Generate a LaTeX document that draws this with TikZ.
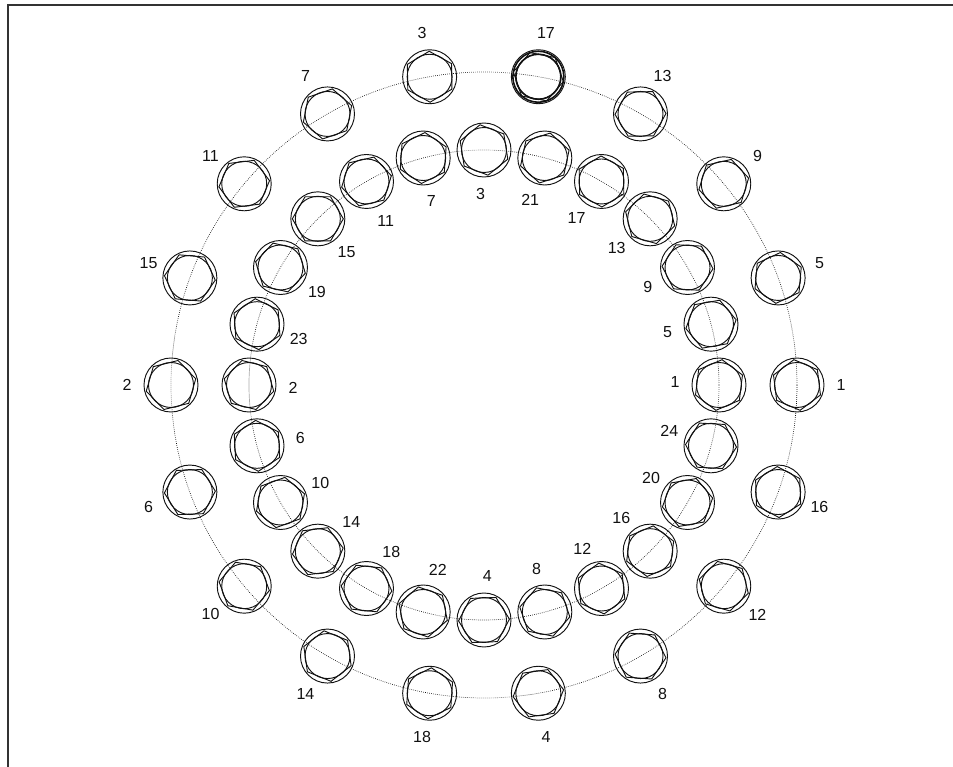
\documentclass[tikz,border=0pt]{standalone}
\usepackage{fontspec}
\setmainfont{Liberation Sans}
\usetikzlibrary{positioning}
\definecolor{ink}{HTML}{111111}
\definecolor{framegray}{HTML}{333333}
\tikzset{
  boltline/.style={draw=ink, line width=0.7pt},
  hotline/.style={draw=ink, line width=1.2pt},
  pitch/.style={draw=ink, line width=0.5pt, densely dotted},
  num/.style={font=\fontsize{12}{14}\selectfont, text=ink, inner sep=0pt},
  frameline/.style={draw=framegray, line width=1.5pt},
  bolt/.pic={
    \draw[boltline] (0,0) circle[radius=27];
    \draw[boltline] (0,0) circle[radius=22.5];
    \draw[boltline, rotate=#1] (0:25.5) -- (60:25.5) -- (120:25.5) -- (180:25.5) -- (240:25.5) -- (300:25.5) -- cycle;
  }
}

\begin{document}
\begin{tikzpicture}[x=0.75pt, y=0.75pt]
\useasboundingbox (-484,-382) rectangle (469,385);
\draw[frameline] (-476,-400) -- (-476,380) -- (480,380);

% pitch circles
\coordinate (hub) at (0,0);
\draw[pitch] (hub) circle[radius=313];
\draw[pitch] (hub) circle[radius=235];

% outer ring, 18 bolts
\foreach \n/\a in {1/0,5/20,9/40,13/60,17/80,3/100,7/120,11/140,15/160,2/180,6/200,10/220,14/240,18/260,4/280,8/300,12/320,16/340}{
  \pgfmathsetmacro{\r}{mod(\n*37+\a,60)}
  \coordinate (ob\n) at (\a:313);
  \pic at (ob\n) {bolt=\r};
  \node[num] (ol\n) at (\a:357) {\n};
}
\draw[hotline] (ob17) circle[radius=25.5];
\draw[hotline] (ob17) circle[radius=22.5];

% inner ring, 24 bolts
\foreach \n/\a in {1/0,5/15,9/30,13/45,17/60,21/75,3/90,7/105,11/120,15/135,19/150,23/165,2/180,6/195,10/210,14/225,18/240,22/255,4/270,8/285,12/300,16/315,20/330,24/345}{
  \pgfmathsetmacro{\r}{mod(\n*23+\a,60)}
  \coordinate (ib\n) at (\a:235);
  \pic at (ib\n) {bolt=\r};
  \node[num] (il\n) at (\a+1:191) {\n};
}
\end{tikzpicture}
\end{document}
